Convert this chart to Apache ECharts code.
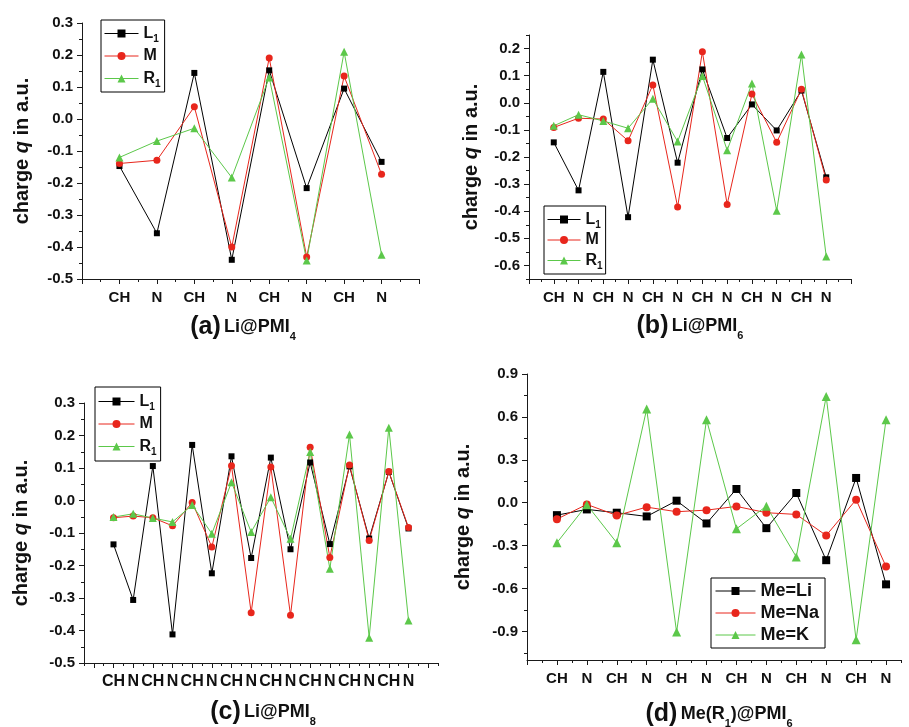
<!DOCTYPE html>
<html><head><meta charset="utf-8">
<script src="https://cdn.jsdelivr.net/npm/echarts@6/dist/echarts.min.js"></script>
<style>html,body{margin:0;padding:0;background:#fff}#c{width:909px;height:727px}</style>
</head><body><div id="c"></div>
<script>
// ---- categories ----
const catsA = ['CH','N','CH','N','CH','N','CH','N'];
const catsB = ['CH','N','CH','N','CH','N','CH','N','CH','N','CH','N'];
const catsC = ['CH','N','CH','N','CH','N','CH','N','CH','N','CH','N','CH','N','CH','N'];
const catsD = ['CH','N','CH','N','CH','N','CH','N','CH','N','CH','N'];
// ---- panel (a) Li@PMI4 ----
const aL1 = [-0.147,-0.357,0.144,-0.440,0.152,-0.216,0.095,-0.134];
const aM  = [-0.139,-0.129,0.038,-0.400,0.191,-0.431,0.134,-0.173];
const aR1 = [-0.120,-0.069,-0.029,-0.183,0.130,-0.442,0.210,-0.424];
// ---- panel (b) Li@PMI6 ----
const bL1 = [-0.146,-0.323,0.114,-0.422,0.159,-0.221,0.123,-0.130,-0.006,-0.102,0.045,-0.275];
const bM  = [-0.091,-0.057,-0.060,-0.140,0.066,-0.384,0.188,-0.375,0.032,-0.146,0.050,-0.285];
const bR1 = [-0.085,-0.044,-0.067,-0.094,0.015,-0.143,0.099,-0.175,0.071,-0.398,0.178,-0.567];
// ---- panel (c) Li@PMI8 ----
const cL1 = [-0.135,-0.306,0.106,-0.412,0.171,-0.224,0.136,-0.177,0.132,-0.150,0.117,-0.134,0.105,-0.117,0.088,-0.086];
const cM  = [-0.053,-0.048,-0.053,-0.078,-0.006,-0.143,0.107,-0.345,0.103,-0.353,0.164,-0.175,0.109,-0.123,0.089,-0.083];
const cR1 = [-0.051,-0.041,-0.054,-0.066,-0.014,-0.102,0.056,-0.097,0.010,-0.118,0.149,-0.210,0.203,-0.422,0.224,-0.369];
// ---- panel (d) Me(R1)@PMI6 ----
const dLi = [-0.087,-0.047,-0.070,-0.096,0.014,-0.145,0.096,-0.178,0.068,-0.402,0.173,-0.571];
const dNa = [-0.115,-0.012,-0.089,-0.031,-0.063,-0.052,-0.026,-0.070,-0.082,-0.229,0.021,-0.447];
const dK  = [-0.280,-0.014,-0.280,0.655,-0.905,0.580,-0.183,-0.024,-0.379,0.743,-0.959,0.580];
// ---- y tick labels ----
const yTicksA = [-0.5,-0.4,-0.3,-0.2,-0.1,0.0,0.1,0.2,0.3];
const yTicksB = [-0.6,-0.5,-0.4,-0.3,-0.2,-0.1,0.0,0.1,0.2];
const yTicksC = [-0.5,-0.4,-0.3,-0.2,-0.1,0.0,0.1,0.2,0.3];
const yTicksD = [-0.9,-0.6,-0.3,0.0,0.3,0.6,0.9];

const BLACK = '#000000', RED = '#e8261c', GREEN = '#5cc84a';
const AX = '#1a1a1a';
const FONT = 'Liberation Sans, Arial, sans-serif';

function range(a, b, step) { const r = []; for (let k = 0; a + k * step <= b + 1e-9; k++) r.push(+(a + k * step).toFixed(4)); return r; }

const grids = [
  {left: 82, top: 23, width: 337, height: 256},
  {left: 529, top: 35, width: 322, height: 244},
  {left: 84, top: 403, width: 354, height: 260},
  {left: 527, top: 374, width: 374, height: 286}
];
const panels = [
  {cats: catsA, xmin: -1, xmax: 8, ymin: -0.5, ymax: 0.3, yt: yTicksA, ystep: 0.1},
  {cats: catsB, xmin: -1, xmax: 12, ymin: -0.65, ymax: 0.25, yt: yTicksB, ystep: 0.1},
  {cats: catsC, xmin: -1.5, xmax: 16.5, ymin: -0.5, ymax: 0.3, yt: yTicksC, ystep: 0.1},
  {cats: catsD, xmin: -1, xmax: 11.5, ymin: -1.1, ymax: 0.9, yt: yTicksD, ystep: 0.3}
];

const xAxis = [], yAxis = [];
panels.forEach((p, g) => {
  const xMajor = range(Math.ceil(p.xmin), p.xmax, 1);
  const xMinor = range(Math.ceil(p.xmin - 0.5) + 0.5, p.xmax, 1);
  const idx = p.cats.map((c, i) => i);
  xAxis.push({
    type: 'value', gridIndex: g, position: 'bottom', min: p.xmin, max: p.xmax,
    axisLine: {show: true, onZero: false, lineStyle: {color: AX, width: 1}},
    axisTick: {show: true, length: 5, customValues: xMajor, lineStyle: {color: AX, width: 1}},
    axisLabel: {customValues: idx, formatter: v => p.cats[Math.round(v)], fontSize: g === 2 ? 16 : 15, fontWeight: 'bold', color: '#111', fontFamily: FONT, margin: 11},
    splitLine: {show: false}
  });
  xAxis.push({
    type: 'value', gridIndex: g, position: 'bottom', min: p.xmin, max: p.xmax,
    axisLine: {show: false, onZero: false},
    axisTick: {show: true, length: 3, customValues: xMinor, lineStyle: {color: AX, width: 1}},
    axisLabel: {show: false}, splitLine: {show: false}
  });
  const half = p.ystep / 2;
  const yMinor = [];
  for (let v = p.yt[0] - half; v <= p.ymax + 1e-9; v += p.ystep) if (v >= p.ymin - 1e-9) yMinor.push(+v.toFixed(4));
  yAxis.push({
    type: 'value', gridIndex: g, position: 'left', min: p.ymin, max: p.ymax,
    axisLine: {show: true, onZero: false, lineStyle: {color: AX, width: 1}},
    axisTick: {show: true, length: 5, customValues: p.yt, lineStyle: {color: AX, width: 1}},
    axisLabel: {customValues: p.yt, formatter: v => v.toFixed(1), fontSize: 15, fontWeight: 'bold', color: '#111', fontFamily: FONT, margin: 9},
    splitLine: {show: false}
  });
  yAxis.push({
    type: 'value', gridIndex: g, position: 'left', min: p.ymin, max: p.ymax,
    axisLine: {show: false, onZero: false},
    axisTick: {show: true, length: 3, customValues: yMinor, lineStyle: {color: AX, width: 1}},
    axisLabel: {show: false}, splitLine: {show: false}
  });
});

function mk(name, arr, g, color, symbol, size) {
  return {
    type: 'line', name, xAxisIndex: 2 * g, yAxisIndex: 2 * g,
    data: arr.map((v, i) => [i, v]),
    symbol, symbolSize: size, showSymbol: true,
    lineStyle: {color, width: 1}, itemStyle: {color, borderWidth: 0},
    emphasis: {disabled: true}, animation: false
  };
}
const series = [
  mk('L1', aL1, 0, BLACK, 'rect', 6), mk('M', aM, 0, RED, 'circle', 7), mk('R1', aR1, 0, GREEN, 'triangle', 8),
  mk('L1', bL1, 1, BLACK, 'rect', 6), mk('M', bM, 1, RED, 'circle', 7), mk('R1', bR1, 1, GREEN, 'triangle', 8),
  mk('L1', cL1, 2, BLACK, 'rect', 6), mk('M', cM, 2, RED, 'circle', 7), mk('R1', cR1, 2, GREEN, 'triangle', 8),
  mk('Me=Li', dLi, 3, BLACK, 'rect', 8), mk('Me=Na', dNa, 3, RED, 'circle', 8), mk('Me=K', dK, 3, GREEN, 'triangle', 9)
];

function legendRich(fs) {
  return {
    n: {fontSize: fs + 1, fontWeight: 'bold', color: '#111', fontFamily: FONT, lineHeight: fs + 2},
    s: {fontSize: 10, fontWeight: 'bold', color: '#111', fontFamily: FONT, lineHeight: fs + 2, padding: [Math.round(fs * 0.75), 0, 0, 0]}
  };
}
function legendFmt(n) { const m = n.match(/^([A-Z])(\d)$/); return m ? '{n|' + m[1] + '}{s|' + m[2] + '}' : '{n|' + n + '}'; }
function mkLegend(left, top, names, fs, gap, pad, iw) {
  return {
    left, top, orient: 'vertical', data: names, selectedMode: false,
    borderColor: '#000', borderWidth: 1, padding: pad, itemGap: gap,
    itemWidth: iw, itemHeight: 10, formatter: legendFmt,
    lineStyle: {width: 1},
    textStyle: {rich: legendRich(fs), padding: [0, 0, 0, 0]}
  };
}
const legend = [
  mkLegend(101, 20, ['L1','M','R1'], 15, 4, [3, 4, 3, 3], 34),
  mkLegend(544, 206, ['L1','M','R1'], 15, 2, [3, 3, 3, 3], 33),
  mkLegend(95, 387, ['L1','M','R1'], 15, 4, [4, 4, 4, 3], 36),
  mkLegend(711, 578, ['Me=Li','Me=Na','Me=K'], 17, 4, [4, 6, 4, 4], 40)
];

function yName(x, y) {
  return {
    type: 'text', x, y, rotation: Math.PI / 2, silent: true,
    style: {
      text: '{b|charge }{i|q}{b| in a.u.}', align: 'center', verticalAlign: 'middle',
      rich: {
        b: {fontSize: 20, fontWeight: 'bold', fontFamily: FONT, fill: '#111'},
        i: {fontSize: 20, fontWeight: 'bold', fontStyle: 'italic', fontFamily: FONT, fill: '#111'}
      }
    }
  };
}
const titleRich = {
  a: {fontSize: 25, fontWeight: 'bold', fontFamily: FONT, fill: '#111', lineHeight: 30},
  b: {fontSize: 18, fontWeight: 'bold', fontFamily: FONT, fill: '#111', lineHeight: 30},
  s: {fontSize: 11, fontWeight: 'bold', fontFamily: FONT, fill: '#111', verticalAlign: 'bottom', lineHeight: 14}
};
function title(x, y, lab, main, sub) {
  return {
    type: 'text', x, y, silent: true,
    style: {text: '{a|' + lab + '} {b|' + main + '}{s|' + sub + '}', align: 'center', verticalAlign: 'middle', rich: titleRich}
  };
}
function titleD(x, y) {
  return {
    type: 'text', x, y, silent: true,
    style: {text: '{a|(d)} {b|Me(R}{s|1}{b|)@PMI}{s|6}', align: 'center', verticalAlign: 'middle', rich: titleRich}
  };
}

const graphic = [
  yName(22, 151), yName(471, 157), yName(21, 533), yName(463, 517),
  title(243, 327, '(a)', 'Li@PMI', '4'),
  title(690, 326, '(b)', 'Li@PMI', '6'),
  title(263, 712, '(c)', 'Li@PMI', '8'),
  titleD(719, 714)
];

const chart = echarts.init(document.getElementById('c'), null, {renderer: 'canvas'});
chart.setOption({
  animation: false, backgroundColor: '#fff',
  grid: grids.map(g => Object.assign({outerBoundsMode: 'none', containLabel: false}, g)),
  xAxis, yAxis, series, legend, graphic
});
</script></body></html>
